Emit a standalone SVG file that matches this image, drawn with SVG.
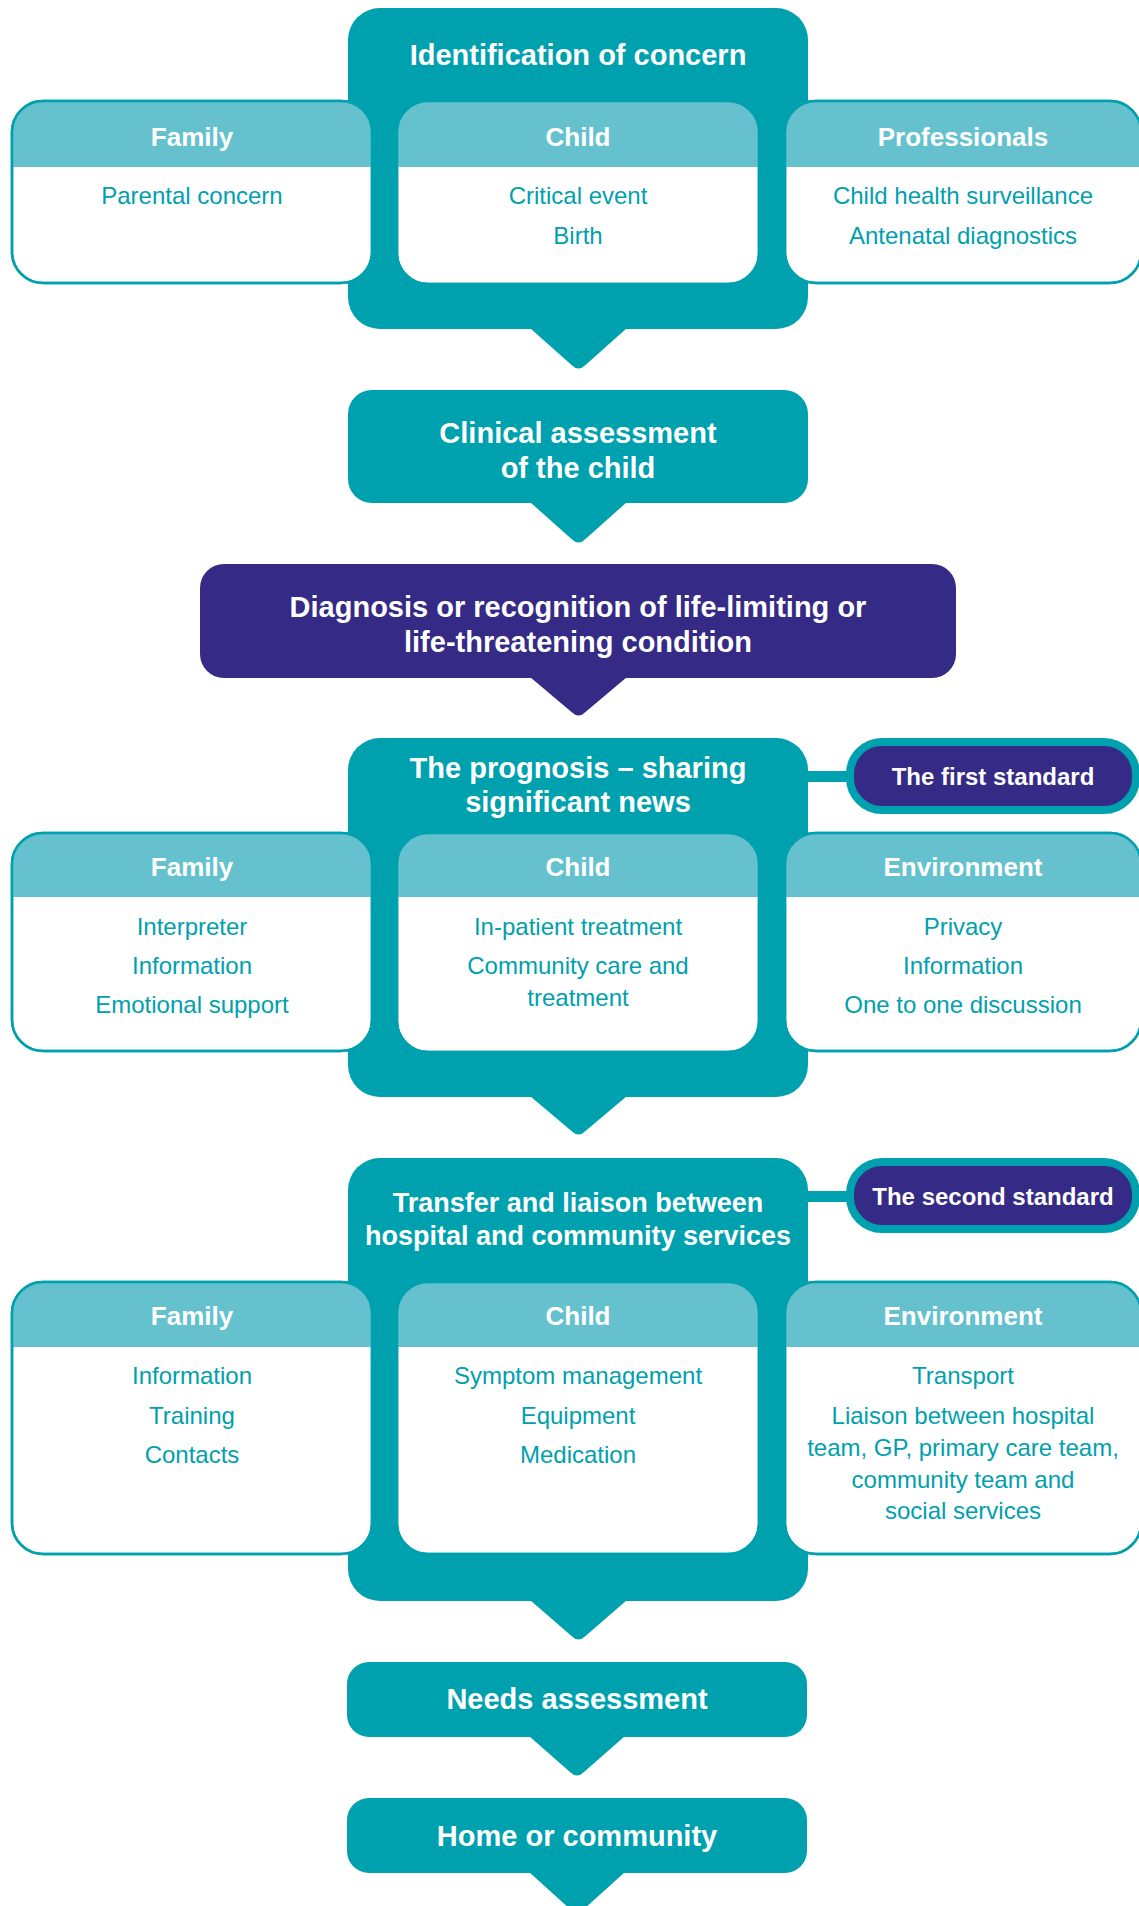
<svg xmlns="http://www.w3.org/2000/svg" width="1139" height="1906" viewBox="0 0 1139 1906">
<style>
.main{fill:#00a1ae}
.purple{fill:#352a85}
.side{fill:#ffffff;stroke:#00a1ae;stroke-width:2.5}
.sideout{fill:none;stroke:#00a1ae;stroke-width:2.5}
.hdr{fill:#64c1cd}
.title{font-family:"Liberation Sans",Arial,sans-serif;font-weight:bold;font-size:29px;fill:#ffffff;text-anchor:middle}
.title27{font-size:27px}
.head{font-family:"Liberation Sans",Arial,sans-serif;font-weight:bold;font-size:26px;fill:#ffffff;text-anchor:middle}
.body{font-family:"Liberation Sans",Arial,sans-serif;font-size:24px;fill:#00a0ae;text-anchor:middle}
.badge{fill:#352a85;stroke:#00a1ae;stroke-width:8}
.btext{font-family:"Liberation Sans",Arial,sans-serif;font-weight:bold;font-size:24px;fill:#ffffff;text-anchor:middle}
</style>
<rect width="1139" height="1906" fill="#ffffff"/>

<g id="connectors">
  <path class="main" d="M530,328 L571.5,365 Q578.5,372 585.5,365 L627,328 Z"/>
  <path class="main" d="M530,502 L571.5,539 Q578.5,546 585.5,539 L627,502 Z"/>
  <path class="purple" d="M530,677 L571.5,712 Q578.5,719 585.5,712 L627,677 Z"/>
  <path class="main" d="M530,1096 L571.5,1131 Q578.5,1138 585.5,1131 L627,1096 Z"/>
  <path class="main" d="M530,1600 L571.5,1636 Q578.5,1643 585.5,1636 L627,1600 Z"/>
  <path class="main" d="M529,1736 L570,1772 Q577,1779 584,1772 L625,1736 Z"/>
  <path class="main" d="M529,1872 L570,1909 Q577,1916 584,1909 L625,1872 Z"/>
  <rect class="main" x="806" y="771" width="44" height="11"/>
  <rect class="main" x="806" y="1191" width="44" height="11"/>
</g>

<g id="identification">
  <rect class="main" x="348" y="8" width="460" height="321" rx="32"/>
  <text class="title" x="578" y="65">Identification of concern</text>
</g>

<g id="id-family">
  <rect class="side" x="12" y="101" width="360" height="182" rx="31"/>
  <path class="hdr" d="M12,167 L12,132 A31,31 0 0 1 43,101 L341,101 A31,31 0 0 1 372,132 L372,167 Z"/>
  <rect class="sideout" x="12" y="101" width="360" height="182" rx="31"/>
  <text class="head" x="192" y="146">Family</text>
  <text class="body" x="192" y="204">Parental concern</text>
</g>

<g id="id-child">
  <rect class="side" x="397" y="101" width="362" height="183" rx="31"/>
  <path class="hdr" d="M397,167 L397,132 A31,31 0 0 1 428,101 L728,101 A31,31 0 0 1 759,132 L759,167 Z"/>
  <rect class="sideout" x="397" y="101" width="362" height="183" rx="31"/>
  <text class="head" x="578" y="146">Child</text>
  <text class="body" x="578" y="204">Critical event</text>
  <text class="body" x="578" y="244">Birth</text>
</g>

<g id="id-professionals">
  <rect class="side" x="785" y="101" width="356" height="182" rx="31"/>
  <path class="hdr" d="M785,167 L785,132 A31,31 0 0 1 816,101 L1110,101 A31,31 0 0 1 1141,132 L1141,167 Z"/>
  <rect class="sideout" x="785" y="101" width="356" height="182" rx="31"/>
  <text class="head" x="963" y="146">Professionals</text>
  <text class="body" x="963" y="204">Child health surveillance</text>
  <text class="body" x="963" y="244">Antenatal diagnostics</text>
</g>

<g id="clinical">
  <rect class="main" x="348" y="390" width="460" height="113" rx="24"/>
  <text class="title" x="578" y="443">Clinical assessment</text>
  <text class="title" x="578" y="478">of the child</text>
</g>

<g id="diagnosis">
  <rect class="purple" x="200" y="564" width="756" height="114" rx="24"/>
  <text class="title" x="578" y="617">Diagnosis or recognition of life-limiting or</text>
  <text class="title" x="578" y="652">life-threatening condition</text>
</g>

<g id="prognosis">
  <rect class="main" x="348" y="738" width="460" height="359" rx="32"/>
  <text class="title" x="578" y="778">The prognosis – sharing</text>
  <text class="title" x="578" y="812">significant news</text>
</g>

<g id="first-standard">
  <rect class="badge" x="850" y="742" width="286" height="68" rx="32"/>
  <text class="btext" x="993" y="785">The first standard</text>
</g>

<g id="pr-family">
  <rect class="side" x="12" y="833" width="360" height="218" rx="31"/>
  <path class="hdr" d="M12,897 L12,864 A31,31 0 0 1 43,833 L341,833 A31,31 0 0 1 372,864 L372,897 Z"/>
  <rect class="sideout" x="12" y="833" width="360" height="218" rx="31"/>
  <text class="head" x="192" y="876">Family</text>
  <text class="body" x="192" y="935">Interpreter</text>
  <text class="body" x="192" y="974">Information</text>
  <text class="body" x="192" y="1013">Emotional support</text>
</g>

<g id="pr-child">
  <rect class="side" x="397" y="833" width="362" height="219" rx="31"/>
  <path class="hdr" d="M397,897 L397,864 A31,31 0 0 1 428,833 L728,833 A31,31 0 0 1 759,864 L759,897 Z"/>
  <rect class="sideout" x="397" y="833" width="362" height="219" rx="31"/>
  <text class="head" x="578" y="876">Child</text>
  <text class="body" x="578" y="935">In-patient treatment</text>
  <text class="body" x="578" y="974">Community care and</text>
  <text class="body" x="578" y="1006">treatment</text>
</g>

<g id="pr-environment">
  <rect class="side" x="785" y="833" width="356" height="218" rx="31"/>
  <path class="hdr" d="M785,897 L785,864 A31,31 0 0 1 816,833 L1110,833 A31,31 0 0 1 1141,864 L1141,897 Z"/>
  <rect class="sideout" x="785" y="833" width="356" height="218" rx="31"/>
  <text class="head" x="963" y="876">Environment</text>
  <text class="body" x="963" y="935">Privacy</text>
  <text class="body" x="963" y="974">Information</text>
  <text class="body" x="963" y="1013">One to one discussion</text>
</g>

<g id="transfer">
  <rect class="main" x="348" y="1158" width="460" height="443" rx="32"/>
  <text class="title title27" x="578" y="1212">Transfer and liaison between</text>
  <text class="title title27" x="578" y="1245">hospital and community services</text>
</g>

<g id="second-standard">
  <rect class="badge" x="850" y="1162" width="286" height="67" rx="32"/>
  <text class="btext" x="993" y="1205">The second standard</text>
</g>

<g id="tr-family">
  <rect class="side" x="12" y="1282" width="360" height="272" rx="31"/>
  <path class="hdr" d="M12,1347 L12,1313 A31,31 0 0 1 43,1282 L341,1282 A31,31 0 0 1 372,1313 L372,1347 Z"/>
  <rect class="sideout" x="12" y="1282" width="360" height="272" rx="31"/>
  <text class="head" x="192" y="1325">Family</text>
  <text class="body" x="192" y="1384">Information</text>
  <text class="body" x="192" y="1424">Training</text>
  <text class="body" x="192" y="1463">Contacts</text>
</g>

<g id="tr-child">
  <rect class="side" x="397" y="1282" width="362" height="272" rx="31"/>
  <path class="hdr" d="M397,1347 L397,1313 A31,31 0 0 1 428,1282 L728,1282 A31,31 0 0 1 759,1313 L759,1347 Z"/>
  <rect class="sideout" x="397" y="1282" width="362" height="272" rx="31"/>
  <text class="head" x="578" y="1325">Child</text>
  <text class="body" x="578" y="1384">Symptom management</text>
  <text class="body" x="578" y="1424">Equipment</text>
  <text class="body" x="578" y="1463">Medication</text>
</g>

<g id="tr-environment">
  <rect class="side" x="785" y="1282" width="356" height="272" rx="31"/>
  <path class="hdr" d="M785,1347 L785,1313 A31,31 0 0 1 816,1282 L1110,1282 A31,31 0 0 1 1141,1313 L1141,1347 Z"/>
  <rect class="sideout" x="785" y="1282" width="356" height="272" rx="31"/>
  <text class="head" x="963" y="1325">Environment</text>
  <text class="body" x="963" y="1384">Transport</text>
  <text class="body" x="963" y="1424">Liaison between hospital</text>
  <text class="body" x="963" y="1456">team, GP, primary care team,</text>
  <text class="body" x="963" y="1488">community team and</text>
  <text class="body" x="963" y="1519">social services</text>
</g>

<g id="needs">
  <rect class="main" x="347" y="1662" width="460" height="75" rx="22"/>
  <text class="title" x="577" y="1709">Needs assessment</text>
</g>

<g id="home">
  <rect class="main" x="347" y="1798" width="460" height="75" rx="22"/>
  <text class="title" x="577" y="1846">Home or community</text>
</g>
</svg>
